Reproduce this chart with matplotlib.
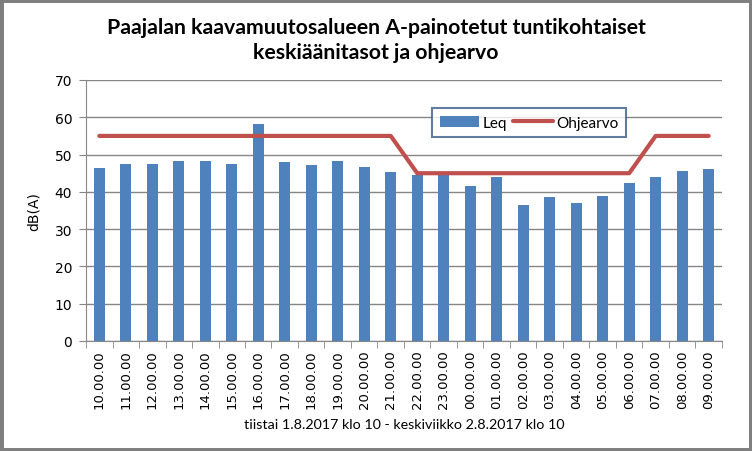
import matplotlib.pyplot as plt
from matplotlib.patches import Rectangle

# Data
hours = ["10.00.00", "11.00.00", "12.00.00", "13.00.00", "14.00.00", "15.00.00",
         "16.00.00", "17.00.00", "18.00.00", "19.00.00", "20.00.00", "21.00.00",
         "22.00.00", "23.00.00", "00.00.00", "01.00.00", "02.00.00", "03.00.00",
         "04.00.00", "05.00.00", "06.00.00", "07.00.00", "08.00.00", "09.00.00"]
leq = [46.3, 47.4, 47.4, 48.4, 48.2, 47.6, 58.2, 47.9, 47.1, 48.2, 46.6, 45.2,
       44.4, 44.7, 41.7, 43.9, 36.4, 38.5, 36.9, 39.0, 42.3, 44.1, 45.5, 46.0]
ohjearvo = [55] * 12 + [45] * 9 + [55] * 3

narrow = ["Lato", "DejaVu Sans"]

fig = plt.figure(figsize=(7.52, 4.52), dpi=100, facecolor="white")
ax = fig.add_axes([0.1144, 0.2434, 0.8456, 0.5774])

x = list(range(len(hours)))
bars = ax.bar(x, leq, width=0.42, color="#4F81BD", label="Leq", zorder=2)
line, = ax.plot(x, ohjearvo, color="#C0504D", linewidth=3, label="Ohjearvo", zorder=3,
                solid_capstyle="round")

ax.set_xlim(-0.5, len(hours) - 0.5)
ax.set_ylim(0, 70)
ax.set_yticks(range(0, 71, 10))
ax.yaxis.grid(True, color="#868686", linewidth=1)
ax.set_axisbelow(True)

ax.set_xticks(x)
ax.set_xticklabels(hours, rotation=90, fontsize=9.5)
ax.tick_params(axis="x", length=0, pad=6)
ax.set_xticks([i - 0.5 for i in range(len(hours) + 1)], minor=True)
ax.tick_params(axis="x", which="minor", length=5, color="#868686", direction="out")
ax.tick_params(axis="y", length=5, color="#868686", labelsize=10, pad=5)

for s in ["top", "right"]:
    ax.spines[s].set_visible(False)
for s in ["left", "bottom"]:
    ax.spines[s].set_color("#868686")

ax.set_ylabel("dB(A)", fontsize=10, labelpad=10)
ax.set_xlabel("tiistai 1.8.2017 klo 10 - keskiviikko 2.8.2017 klo 10",
              family=narrow, fontsize=10.3, labelpad=7)

fig.suptitle("Paajalan kaavamuutosalueen A-painotetut tuntikohtaiset\nkeskiäänitasot ja ohjearvo",
             family=narrow, fontweight="bold", fontsize=15.3, y=0.96, linespacing=1.3)

leg = ax.legend([bars, line], ["Leq", "Ohjearvo"], loc="upper left",
                bbox_to_anchor=(0.544, 0.893), ncol=2, frameon=True,
                fancybox=False, prop={"family": narrow, "size": 11}, handlelength=2.6,
                handletextpad=0.2, columnspacing=0.4, borderpad=0.5, borderaxespad=0)
leg.get_frame().set_edgecolor("#385D8A")
leg.get_frame().set_linewidth(1.5)

fig.patches.append(Rectangle((0, 0), 1, 1, transform=fig.transFigure, fill=False,
                             edgecolor="#7F7F7F", linewidth=5))

fig.savefig("out.png", dpi=100, facecolor="white")
